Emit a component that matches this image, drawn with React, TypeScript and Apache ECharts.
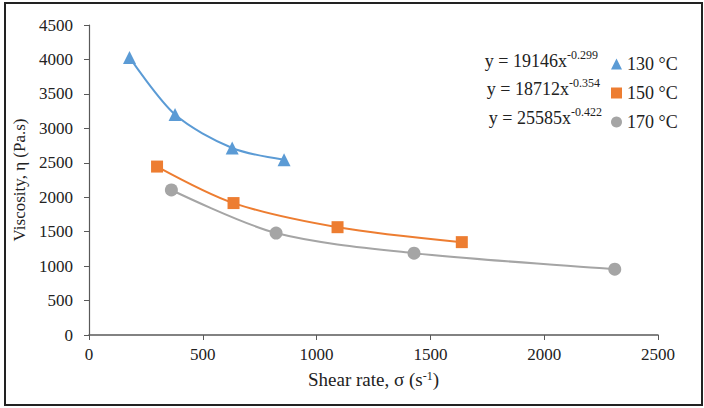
import React, { useEffect, useRef } from "react";
import * as echarts from "echarts";

const seriesNames = ["130 °C", "150 °C", "170 °C"];
const colors = ["#5B9BD5", "#ED7D31", "#A5A5A5"];
const symbols = ["triangle", "rect", "circle"];

const shear130 = [178, 378, 629, 857];
const visc130 = [4030, 3200, 2715, 2545];
const shear150 = [299, 635, 1092, 1638];
const visc150 = [2445, 1915, 1565, 1348];
const shear170 = [362, 822, 1428, 2310];
const visc170 = [2105, 1480, 1188, 955];

const equations = [
  { base: "y = 19146x", exp: "-0.299" },
  { base: "y = 18712x", exp: "-0.354" },
  { base: "y = 25585x", exp: "-0.422" },
];

const xTicks = { min: 0, max: 2500, interval: 500 };
const yTicks = { min: 0, max: 4500, interval: 500 };

const FONT = "Liberation Serif";

export default function App() {
  const ref = useRef<HTMLDivElement>(null);
  useEffect(() => {
    if (!ref.current) return;
    const chart = echarts.init(ref.current, undefined, { renderer: "svg" });
    const xs = [shear130, shear150, shear170];
    const ys = [visc130, visc150, visc170];
    const series = seriesNames.map((name, i) => ({
      name,
      type: "line",
      data: xs[i].map((x, j) => [x, ys[i][j]]),
      smooth: 0.3,
      symbol: symbols[i],
      symbolSize: i === 1 ? 12 : 13,
      showSymbol: true,
      lineStyle: { color: colors[i], width: 2 },
      itemStyle: { color: colors[i] },
      z: 3,
    }));
    const axisColor = "#595959";
    chart.setOption({
      animation: false,
      grid: { left: 89, right: 46, top: 25, bottom: 73 },
      xAxis: {
        type: "value",
        ...xTicks,
        name: "Shear rate, σ (s{sup|-1})",
        nameLocation: "middle",
        nameGap: 35,
        nameTextStyle: {
          fontFamily: FONT,
          fontSize: 19,
          color: "#222",
          rich: { sup: { fontFamily: FONT, fontSize: 12, verticalAlign: "top", color: "#222" } },
        },
        axisLine: { show: true, lineStyle: { color: axisColor, width: 1.5 } },
        axisTick: { show: true, inside: false, length: 5, lineStyle: { color: axisColor } },
        axisLabel: {
          fontFamily: FONT,
          fontSize: 17,
          color: "#222",
          margin: 11,
          formatter: (v: number) => String(v),
        },
        splitLine: { show: false },
      },
      yAxis: {
        type: "value",
        ...yTicks,
        name: "Viscosity, η (Pa.s)",
        nameLocation: "middle",
        nameGap: 60,
        nameTextStyle: { fontFamily: FONT, fontSize: 17, color: "#222" },
        axisLine: { show: true, lineStyle: { color: axisColor, width: 1.2 } },
        axisTick: { show: true, inside: false, length: 5, lineStyle: { color: axisColor } },
        axisLabel: {
          fontFamily: FONT,
          fontSize: 17,
          color: "#222",
          margin: 16,
          formatter: (v: number) => String(v),
        },
        splitLine: { show: false },
      },
      legend: {
        orient: "vertical",
        left: 606,
        top: 50,
        itemWidth: 11,
        itemHeight: 11,
        itemGap: 11,
        textStyle: { fontFamily: FONT, fontSize: 18, color: "#222" },
        data: seriesNames.map((n, i) => ({ name: n, icon: symbols[i] })),
      },
      graphic: [
        {
          type: "rect",
          shape: { x: 5, y: 3, width: 697, height: 402 },
          style: { fill: "none", stroke: "#222", lineWidth: 2 },
          silent: true,
        },
        ...equations.map((e, i) => ({
          type: "text",
          x: 598 + i * 2,
          y: 59 + i * 28.5,
          style: {
            text: `{b|${e.base}}{s|${e.exp}}`,
            align: "right",
            verticalAlign: "middle",
            rich: {
              b: { fontFamily: FONT, fontSize: 18, fill: "#222", lineHeight: 21, verticalAlign: "bottom" },
              s: { fontFamily: FONT, fontSize: 12, fill: "#222", lineHeight: 21, verticalAlign: "top" },
            },
          },
        })),
      ],
      series,
    });
    return () => chart.dispose();
  }, []);
  return (
    <div
      ref={ref}
      style={{ position: "absolute", left: 0, top: 0, width: 704, height: 408, background: "#fff" }}
    />
  );
}
